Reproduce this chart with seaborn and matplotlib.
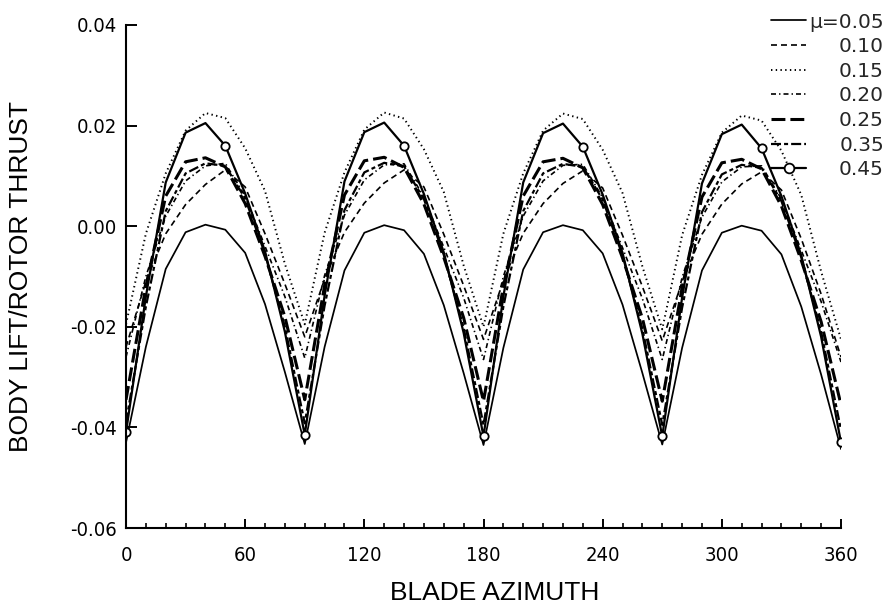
import numpy as np
import pandas as pd
import matplotlib
matplotlib.use("Agg")
import matplotlib.pyplot as plt
import seaborn as sns
from matplotlib.lines import Line2D
from matplotlib.ticker import MultipleLocator, FormatStrFormatter
from matplotlib import font_manager as fm

# Blade azimuth (deg) and body lift / rotor thrust for each advance ratio
azimuth = list(range(0, 361, 10))
mu_labels = ["\u03bc=0.05", "0.10", "0.15", "0.20", "0.25", "0.35", "0.45"]

lift_mu05 = [
    -0.0430, -0.0240, -0.0085, -0.0012, 0.0003, -0.0007, -0.0053, -0.0155, -0.0290,
    -0.0433, -0.0240, -0.0088, -0.0013, 0.0002, -0.0008, -0.0055, -0.0157, -0.0292,
    -0.0435, -0.0242, -0.0086, -0.0012, 0.0002, -0.0008, -0.0054, -0.0156, -0.0292,
    -0.0434, -0.0242, -0.0088, -0.0013, 0.0001, -0.0009, -0.0056, -0.0160, -0.0295,
    -0.0443]
lift_mu10 = [
    -0.0240, -0.0110, -0.0015, 0.0043, 0.0083, 0.0112, 0.0078, -0.0015, -0.0115,
    -0.0220, -0.0105, -0.0012, 0.0046, 0.0086, 0.0112, 0.0078, -0.0016, -0.0118,
    -0.0225, -0.0108, -0.0014, 0.0045, 0.0085, 0.0110, 0.0076, -0.0018, -0.0120,
    -0.0228, -0.0110, -0.0016, 0.0044, 0.0084, 0.0108, 0.0072, -0.0025, -0.0135,
    -0.0260]
lift_mu15 = [
    -0.0195, -0.0015, 0.0105, 0.0190, 0.0225, 0.0215, 0.0155, 0.0070, -0.0075,
    -0.0195, -0.0013, 0.0107, 0.0192, 0.0226, 0.0214, 0.0153, 0.0068, -0.0078,
    -0.0200, -0.0015, 0.0105, 0.0190, 0.0224, 0.0213, 0.0152, 0.0066, -0.0080,
    -0.0205, -0.0018, 0.0102, 0.0186, 0.0220, 0.0210, 0.0150, 0.0062, -0.0090,
    -0.0225]
lift_mu20 = [
    -0.0260, -0.0100, 0.0020, 0.0090, 0.0120, 0.0125, 0.0060, -0.0040, -0.0140,
    -0.0262, -0.0098, 0.0022, 0.0092, 0.0122, 0.0124, 0.0058, -0.0042, -0.0142,
    -0.0265, -0.0100, 0.0020, 0.0090, 0.0121, 0.0123, 0.0057, -0.0043, -0.0144,
    -0.0265, -0.0102, 0.0018, 0.0088, 0.0118, 0.0120, 0.0054, -0.0048, -0.0150,
    -0.0270]
lift_mu25 = [
    -0.0345, -0.0120, 0.0060, 0.0128, 0.0136, 0.0118, 0.0045, -0.0060, -0.0180,
    -0.0345, -0.0118, 0.0062, 0.0130, 0.0137, 0.0117, 0.0044, -0.0062, -0.0182,
    -0.0348, -0.0120, 0.0060, 0.0128, 0.0135, 0.0116, 0.0043, -0.0063, -0.0183,
    -0.0348, -0.0122, 0.0058, 0.0126, 0.0133, 0.0114, 0.0040, -0.0068, -0.0190,
    -0.0355]
lift_mu35 = [
    -0.0390, -0.0160, 0.0030, 0.0105, 0.0125, 0.0120, 0.0055, -0.0055, -0.0200,
    -0.0392, -0.0158, 0.0032, 0.0107, 0.0126, 0.0119, 0.0054, -0.0057, -0.0202,
    -0.0395, -0.0160, 0.0030, 0.0105, 0.0124, 0.0118, 0.0053, -0.0058, -0.0204,
    -0.0395, -0.0162, 0.0028, 0.0103, 0.0122, 0.0116, 0.0050, -0.0062, -0.0210,
    -0.0405]
lift_mu45 = [
    -0.0410, -0.0140, 0.0087, 0.0186, 0.0205, 0.0160, 0.0065, -0.0050, -0.0210,
    -0.0415, -0.0138, 0.0089, 0.0187, 0.0206, 0.0160, 0.0064, -0.0052, -0.0212,
    -0.0418, -0.0140, 0.0087, 0.0185, 0.0204, 0.0158, 0.0063, -0.0053, -0.0214,
    -0.0418, -0.0142, 0.0085, 0.0183, 0.0202, 0.0155, 0.0060, -0.0058, -0.0220,
    -0.0430]

x_ticks = [0, 60, 120, 180, 240, 300, 360]
y_ticks = [-0.06, -0.04, -0.02, 0.00, 0.02, 0.04]

series = [lift_mu05, lift_mu10, lift_mu15, lift_mu20, lift_mu25, lift_mu35, lift_mu45]
df = pd.DataFrame({"azimuth": azimuth, **dict(zip(mu_labels, series))})
df = df.melt(id_vars="azimuth", var_name="mu", value_name="lift")

sns.set_theme(style="white")
plt.rcParams["font.family"] = ["DejaVu Sans"]
plt.rcParams["axes.unicode_minus"] = False
plt.rcParams["lines.scale_dashes"] = False


def narrow_font(size):
    """Pick a condensed sans face for the tick numbers if one is installed."""
    narrow = ("condensed", "semi-condensed", "extra-condensed", "ultra-condensed")
    for entry in fm.fontManager.ttflist:
        if ("Narrow" in entry.name or entry.stretch in narrow) and entry.weight in (400, "normal", "regular") \
                and entry.style == "normal":
            return fm.FontProperties(fname=entry.fname, size=size)
    return fm.FontProperties(family="Liberation Sans", size=size - 0.5)


# line style for each advance ratio
line_styles = [
    dict(linestyle="-", linewidth=1.25),
    dict(linestyle=(0, (4.3, 2.9)), linewidth=1.2),
    dict(linestyle=(0, (1.0, 2.4)), linewidth=1.4),
    dict(linestyle=(0, (3.6, 2.2, 1.0, 2.2)), linewidth=1.2),
    dict(linestyle=(0, (10.0, 3.6)), linewidth=2.2),
    dict(linestyle=(0, (7.2, 2.2, 2.9, 2.2)), linewidth=1.6),
    dict(linestyle="-", linewidth=1.6, marker="o", markersize=6,
         markerfacecolor="white", markeredgecolor="black", markeredgewidth=1.3),
]
marker_idx = [0, 5, 9, 14, 18, 23, 27, 32, 36]

fig = plt.figure(figsize=(8.89, 6.16), dpi=100)
ax = fig.add_axes([126 / 889, 88 / 616, 715 / 889, 503 / 616])

for lab, style in zip(mu_labels, line_styles):
    sub = df[df["mu"] == lab]
    extra = {"markevery": marker_idx} if "marker" in style else {}
    sns.lineplot(data=sub, x="azimuth", y="lift", ax=ax, color="black",
                 errorbar=None, legend=False, **style, **extra)

ax.set_xlim(0, 360)
ax.set_ylim(-0.06, 0.04)
ax.set_xticks(x_ticks)
ax.set_yticks(y_ticks)
ax.xaxis.set_minor_locator(MultipleLocator(10))
ax.yaxis.set_major_formatter(FormatStrFormatter("%.2f"))
ax.set_xlabel("")
ax.set_ylabel("")
ax.grid(False)

for side in ["top", "right"]:
    ax.spines[side].set_visible(False)
for side in ["left", "bottom"]:
    ax.spines[side].set_linewidth(1.5)
    ax.spines[side].set_color("black")

ax.tick_params(axis="x", which="major", direction="in", length=6.5, width=1.4,
               pad=13, colors="black", bottom=True)
ax.tick_params(axis="x", which="minor", direction="in", length=3.6, width=1.2,
               bottom=True, colors="black")
ax.tick_params(axis="y", which="major", direction="in", length=8, width=1.4,
               pad=6.5, colors="black", left=True)
ax.tick_params(axis="y", which="minor", left=False)

tick_font = narrow_font(14.5)
for lbl in ax.get_xticklabels() + ax.get_yticklabels():
    lbl.set_fontproperties(tick_font)

fig.text(495 / 889, 1 - 593 / 616, "BLADE AZIMUTH", ha="center", va="center",
         fontsize=19, family=["Liberation Sans", "DejaVu Sans"], color="black")
fig.text(21.5 / 889, 1 - 276 / 616, "BODY LIFT/ROTOR THRUST", ha="center",
         va="center", rotation=90, fontsize=19,
         family=["Liberation Sans", "DejaVu Sans"], color="black")

handles = []
for style in line_styles:
    st = dict(style)
    if "marker" in st:
        st["markersize"] = 7
    handles.append(Line2D([], [], color="black", **st))

leg = fig.legend(handles, mu_labels, loc="upper right",
                 bbox_to_anchor=(884 / 889, 1 - 12.5 / 616),
                 bbox_transform=fig.transFigure, frameon=False, borderpad=0,
                 borderaxespad=0, handlelength=1.74, handletextpad=0.15,
                 labelspacing=0.28, numpoints=1,
                 prop={"family": "DejaVu Sans", "size": 14.5})

# right-align the legend labels
fig.canvas.draw()
renderer = fig.canvas.get_renderer()
widths = [t.get_window_extent(renderer).width for t in leg.get_texts()]
widest = max(widths)
for t, w in zip(leg.get_texts(), widths):
    t.set_position((widest - w, 0))

fig.savefig("out.png", dpi=100)
